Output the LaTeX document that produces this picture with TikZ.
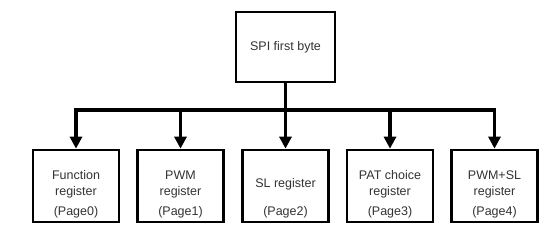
\documentclass[tikz,border=0pt]{standalone}
\usepackage{fontspec}
\setmainfont{Liberation Sans}
\usetikzlibrary{arrows.meta}
\begin{document}
\begin{tikzpicture}[x=1pt,y=-1pt,
  box/.style={draw=black,line width=2.7pt,minimum width=86pt,minimum height=72pt,inner sep=0pt,fill=white},
  topbox/.style={draw=black,line width=2.7pt,minimum width=99pt,minimum height=70pt,inner sep=0pt},
  txt/.style={anchor=base,inner sep=0pt,font=\fontsize{12.5}{14}\selectfont,text=black!80},
  conn/.style={line width=3.4pt,draw=black},
  arr/.style={conn,-{Triangle[width=12pt,length=12pt]}}]
\useasboundingbox (0,0) rectangle (551,248);
\node[topbox] (top) at (285.5,47) {};
\node[txt] (toptxt) at (285.5,51) {SPI first byte};
\foreach \n/\x in {b0/76,b1/180.5,b2/285.5,b3/390,b4/494.5}{
  \node[box] (\n) at (\x,186) {};
}
\coordinate (j) at (285.5,110);
\coordinate (jl) at (76,110);
\coordinate (jr) at (494.5,110);
\draw[conn] (top.south) -- (j);
\draw[conn] ([xshift=-1.7pt]jl) -- ([xshift=1.7pt]jr);
\foreach \n in {b0,b1,b2,b3,b4}{
  \draw[arr] (\n.north |- j) -- (\n.north);
}
\node[txt] (t0a) at (76,179) {Function};
\node[txt] (t0b) at (76,195) {register};
\node[txt] (t0c) at (76,215) {(Page0)};
\node[txt] (t1a) at (180.5,179) {PWM};
\node[txt] (t1b) at (180.5,195) {register};
\node[txt] (t1c) at (180.5,215) {(Page1)};
\node[txt] (t2a) at (285.5,187) {SL register};
\node[txt] (t2c) at (285.5,215) {(Page2)};
\node[txt] (t3a) at (390,179) {PAT choice};
\node[txt] (t3b) at (390,195) {register};
\node[txt] (t3c) at (390,215) {(Page3)};
\node[txt] (t4a) at (494.5,179) {PWM+SL};
\node[txt] (t4b) at (494.5,195) {register};
\node[txt] (t4c) at (494.5,215) {(Page4)};
\end{tikzpicture}
\end{document}
